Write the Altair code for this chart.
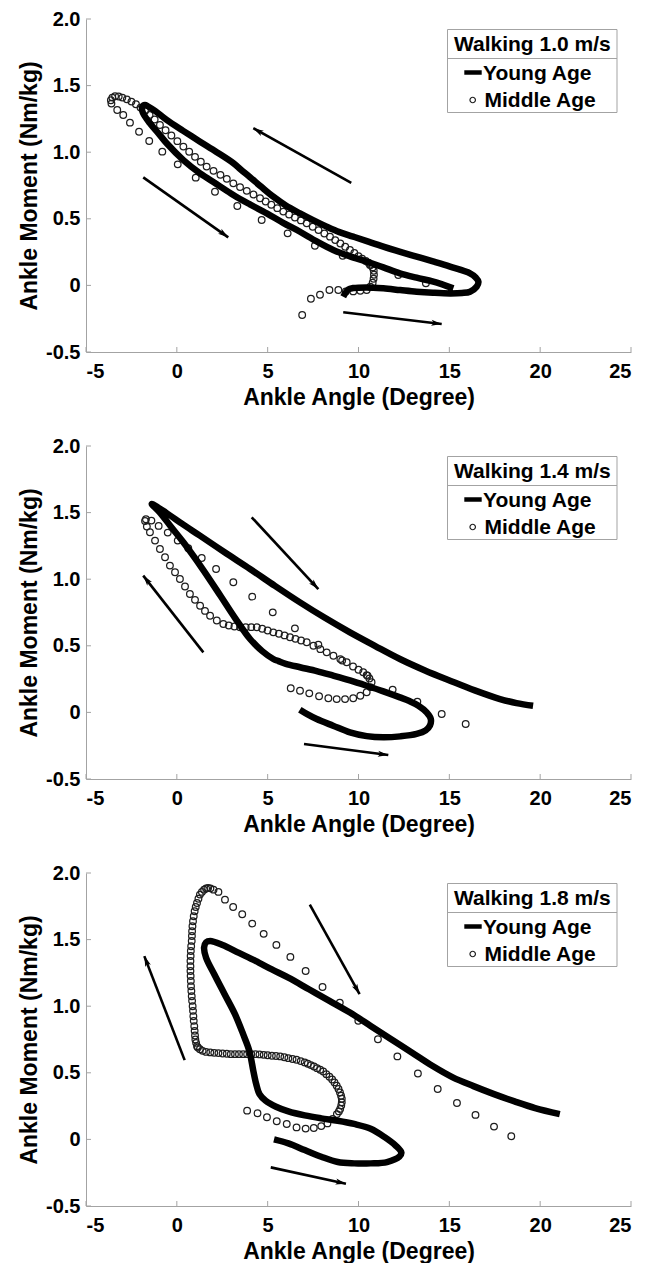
import math
import altair as alt
import pandas as pd

FONT = "Liberation Sans"
X_TICKS = [-5, 0, 5, 10, 15, 20, 25]
Y_TICKS = [-0.5, 0, 0.5, 1.0, 1.5, 2.0]
X_TITLE = "Ankle Angle (Degree)"
Y_TITLE = "Ankle Moment (Nm/kg)"
SERIES = ["Young Age", "Middle Age"]
SPEEDS = ["Walking 1.0 m/s", "Walking 1.4 m/s", "Walking 1.8 m/s"]

# ---------------- Walking 1.0 m/s ----------------
young_x_10 = [9.16, 9.45, 9.71, 10.45, 11.37, 12.3, 13.2, 14.1, 15.04, 15.7, 16.14, 16.5, 16.6, 16.45, 16.14,
              15.04, 14.1, 13.2, 12.3, 11.37, 10.5, 9.71, 8.95, 8.25, 7.5, 6.78, 6.0, 5.31, 4.65, 4.03, 3.5,
              3.11, 2.2, 1.28, 0.35, -0.56, -1.2, -1.6, -1.75, -1.9, -1.88, -1.48, -1.0, -0.56, 0.36, 1.28,
              2.2, 3.11, 4.0, 4.95, 5.85, 6.78, 7.7, 8.61, 9.5, 10.45, 11.37, 12.28, 13.2, 14.12, 15.22]
young_y_10 = [-0.085, -0.03, -0.02, -0.015, -0.022, -0.035, -0.047, -0.055, -0.06, -0.057, -0.047, -0.01,
              0.028, 0.06, 0.091, 0.141, 0.18, 0.216, 0.252, 0.291, 0.33, 0.366, 0.40, 0.441, 0.49, 0.541,
              0.60, 0.666, 0.74, 0.812, 0.872, 0.918, 1.0, 1.079, 1.16, 1.242, 1.31, 1.345, 1.354, 1.34, 1.30,
              1.217, 1.14, 1.067, 0.941, 0.841, 0.76, 0.679, 0.61, 0.541, 0.47, 0.403, 0.33, 0.266, 0.22,
              0.178, 0.135, 0.091, 0.058, 0.028, -0.022]
mid_x_10 = [6.9, 7.38, 7.88, 8.4, 8.89, 9.3, 9.71, 10.1, 10.45, 10.65, 10.78, 10.83, 10.85, 10.84, 10.78,
            10.68, 10.55, 10.4, 10.2, 10.0, 9.77, 9.53, 9.27, 9.0, 8.72, 8.43, 8.12, 7.8, 7.48, 7.15, 6.83,
            6.5, 6.18, 5.86, 5.53, 5.2, 4.89, 4.58, 4.22, 3.85, 3.48, 3.11, 2.75, 2.4, 2.02, 1.64, 1.32,
            1.0, 0.68, 0.36, 0.03, -0.3, -0.62, -0.93, -1.22, -1.5, -1.75, -2.0, -2.25, -2.5, -2.75, -3.0,
            -3.2, -3.4, -3.55, -3.63, -3.6, -3.28, -2.95, -2.58, -2.08, -1.52, -0.8, 0.05, 1.04, 2.1, 3.33,
            4.67, 6.1, 7.6, 9.13, 10.63, 12.19, 13.71]
mid_y_10 = [-0.222, -0.10, -0.07, -0.035, -0.035, -0.045, -0.045, -0.04, -0.035, -0.01, 0.02, 0.05, 0.08,
            0.11, 0.135, 0.155, 0.17, 0.183, 0.20, 0.22, 0.243, 0.266, 0.29, 0.315, 0.34, 0.366, 0.39,
            0.415, 0.44, 0.466, 0.488, 0.51, 0.532, 0.554, 0.58, 0.605, 0.63, 0.654, 0.682, 0.71, 0.738,
            0.766, 0.80, 0.83, 0.86, 0.892, 0.928, 0.965, 1.003, 1.042, 1.083, 1.125, 1.165, 1.204, 1.245,
            1.28, 1.31, 1.335, 1.36, 1.38, 1.397, 1.41, 1.418, 1.42, 1.41, 1.39, 1.365, 1.317, 1.279,
            1.222, 1.154, 1.084, 1.004, 0.909, 0.809, 0.703, 0.596, 0.491, 0.391, 0.298, 0.223, 0.153,
            0.078, 0.016]
arrow_x_10 = [9.6, -1.85, 9.16]
arrow_y_10 = [0.77, 0.811, -0.202]
arrow_x2_10 = [4.21, 2.83, 14.58]
arrow_y2_10 = [1.18, 0.361, -0.29]

# ---------------- Walking 1.4 m/s ----------------
young_x_14 = [6.77, 7.2, 7.7, 8.6, 9.53, 10.45, 11.37, 12.3, 13.2, 13.7, 13.93, 13.98, 13.75, 13.3, 12.8,
              12.28, 11.37, 10.45, 9.53, 8.61, 7.7, 6.78, 6.0, 5.6, 5.31, 4.7, 4.03, 3.2, 2.4, 1.4, 0.36,
              -0.3, -0.93, -1.38, -0.6, 0.3, 1.27, 2.65, 4.03, 5.4, 6.78, 8.15, 9.53, 10.9, 12.28, 13.66,
              15.04, 16.4, 17.79, 18.7, 19.61]
young_y_14 = [0.02, -0.015, -0.05, -0.10, -0.15, -0.178, -0.187, -0.18, -0.162, -0.135, -0.10, -0.05, 0.0,
              0.05, 0.085, 0.113, 0.158, 0.20, 0.24, 0.276, 0.31, 0.339, 0.365, 0.385, 0.401, 0.46, 0.551,
              0.71, 0.876, 1.08, 1.277, 1.39, 1.50, 1.565, 1.50, 1.415, 1.327, 1.20, 1.077, 0.95, 0.826,
              0.71, 0.601, 0.50, 0.401, 0.315, 0.238, 0.165, 0.10, 0.07, 0.05]
mid_x_14 = [6.27, 6.78, 7.29, 7.83, 8.34, 8.8, 9.26, 9.71, 10.1, 10.45, 10.65, 10.72, 10.6, 10.45, 10.26,
            10.0, 9.7, 9.35, 9.0, 8.62, 8.25, 7.9, 7.52, 7.15, 6.84, 6.53, 6.23, 5.93, 5.62, 5.31, 5.0, 4.7,
            4.4, 4.1, 3.79, 3.48, 3.17, 2.86, 2.56, 2.2, 1.83, 1.55, 1.28, 1.0, 0.72, 0.45, 0.17, -0.1,
            -0.38, -0.65, -0.93, -1.2, -1.48, -1.65, -1.75, -1.7, -1.4, -1.0, -0.5, 0.05, 0.63, 1.37,
            2.16, 3.11, 4.15, 5.28, 6.5, 7.79, 9.1, 10.5, 11.88, 13.24, 14.58, 15.9]
mid_y_14 = [0.181, 0.163, 0.143, 0.121, 0.106, 0.10, 0.10, 0.106, 0.125, 0.151, 0.19, 0.226, 0.255, 0.28,
            0.301, 0.32, 0.345, 0.376, 0.40, 0.425, 0.451, 0.475, 0.50, 0.527, 0.54, 0.552, 0.564, 0.578,
            0.59, 0.601, 0.615, 0.628, 0.639, 0.64, 0.64, 0.639, 0.645, 0.652, 0.664, 0.69, 0.726, 0.762,
            0.801, 0.845, 0.889, 0.945, 1.002, 1.052, 1.102, 1.165, 1.227, 1.29, 1.352, 1.395, 1.437,
            1.45, 1.44, 1.40, 1.35, 1.29, 1.232, 1.159, 1.077, 0.977, 0.869, 0.751, 0.631, 0.508, 0.39,
            0.275, 0.171, 0.081, -0.012, -0.087]
arrow_x_14 = [4.12, 1.46, 7.0]
arrow_y_14 = [1.465, 0.451, -0.237]
arrow_x2_14 = [7.79, -1.85, 11.64]
arrow_y2_14 = [0.926, 1.027, -0.32]

# ---------------- Walking 1.8 m/s ----------------
young_x_18 = [5.35, 6.14, 7.04, 7.95, 8.86, 9.76, 10.67, 11.57, 12.25, 12.36, 12.03, 11.46, 10.67, 9.76,
              8.86, 7.95, 7.04, 6.14, 5.46, 4.89, 4.55, 4.37, 4.21, 3.99, 3.65, 3.2, 2.63, 2.06, 1.61, 1.5,
              1.61, 1.84, 2.52, 3.42, 4.33, 5.23, 6.14, 7.27, 8.4, 9.53, 10.67, 11.8, 12.93, 14.06, 15.19,
              16.33, 17.46, 18.59, 19.72, 21.08]
young_y_18 = [0.0, -0.03, -0.08, -0.13, -0.17, -0.18, -0.18, -0.17, -0.13, -0.10, -0.045, 0.015, 0.08,
              0.116, 0.14, 0.158, 0.18, 0.21, 0.245, 0.29, 0.34, 0.415, 0.515, 0.665, 0.79, 0.94, 1.09,
              1.24, 1.364, 1.44, 1.48, 1.49, 1.46, 1.40, 1.34, 1.276, 1.214, 1.127, 1.04, 0.952, 0.852,
              0.752, 0.653, 0.553, 0.466, 0.40, 0.34, 0.285, 0.235, 0.19]
mid_x_18 = [3.87, 4.44, 4.96, 5.5, 6.05, 6.59, 7.09, 7.54, 7.95, 8.29, 8.58, 8.81, 8.92, 8.99, 9.05, 9.08,
            9.08, 9.04, 8.98, 8.9, 8.8, 8.68, 8.55, 8.4, 8.23, 8.06, 7.89, 7.72, 7.55, 7.38, 7.21, 7.04,
            6.82, 6.59, 6.37, 6.14, 5.92, 5.69, 5.46, 5.23, 5.0, 4.78, 4.55, 4.33, 4.1, 3.87, 3.65, 3.42,
            3.2, 2.97, 2.75, 2.52, 2.29, 2.06, 1.84, 1.61, 1.42, 1.27, 1.16, 1.11, 1.06, 1.02, 1.0, 0.98,
            0.96, 0.93, 0.91, 0.89, 0.87, 0.84, 0.82, 0.8, 0.78, 0.77, 0.76, 0.75, 0.75, 0.75, 0.76, 0.77,
            0.79, 0.82, 0.83, 0.84, 0.86, 0.89, 0.93, 0.98, 1.04, 1.11, 1.19, 1.27, 1.38, 1.5, 1.61, 1.72,
            1.85, 2.02, 2.29, 2.65, 3.1, 3.6, 4.15, 4.78, 5.48, 6.25, 7.09, 8.02, 8.97, 9.99, 11.07,
            12.14, 13.27, 14.36, 15.42, 16.44, 17.46, 18.41]
mid_y_18 = [0.216, 0.196, 0.166, 0.136, 0.116, 0.09, 0.081, 0.086, 0.10, 0.12, 0.154, 0.19, 0.21, 0.229,
            0.255, 0.278, 0.305, 0.328, 0.352, 0.378, 0.403, 0.428, 0.45, 0.47, 0.49, 0.51, 0.523, 0.535,
            0.547, 0.558, 0.568, 0.578, 0.588, 0.598, 0.604, 0.61, 0.617, 0.623, 0.626, 0.628, 0.632,
            0.635, 0.638, 0.64, 0.64, 0.64, 0.64, 0.64, 0.64, 0.64, 0.643, 0.645, 0.648, 0.65, 0.653,
            0.657, 0.665, 0.677, 0.69, 0.70, 0.725, 0.75, 0.78, 0.815, 0.85, 0.89, 0.925, 0.965, 1.0,
            1.04, 1.075, 1.114, 1.15, 1.19, 1.227, 1.264, 1.30, 1.34, 1.377, 1.414, 1.45, 1.49, 1.527,
            1.563, 1.60, 1.638, 1.675, 1.713, 1.745, 1.775, 1.807, 1.838, 1.858, 1.875, 1.884, 1.888,
            1.885, 1.875, 1.858, 1.80, 1.745, 1.69, 1.62, 1.543, 1.46, 1.37, 1.264, 1.144, 1.027, 0.89,
            0.752, 0.623, 0.495, 0.378, 0.273, 0.184, 0.096, 0.024]
arrow_x_18 = [7.32, 0.43, 5.17]
arrow_y_18 = [1.763, 0.595, -0.21]
arrow_x2_18 = [10.06, -1.79, 9.31]
arrow_y2_18 = [1.09, 1.376, -0.333]

# ---------------- layout / style ----------------
W, H = 545, 333
XD = [-5, 25]
YD = [-0.5, 2.0]
PX = W / (XD[1] - XD[0])
PY = H / (YD[1] - YD[0])
AXIS_GREY = "#a3a3a3"
CIRCLE_COLOR = "#1e1e1e"
ARROW_HEAD = "M0,0 L0.55,1.9 L0,1.45 L-0.55,1.9 Z"


def panel(title, yx, yy, mx, my, ax, ay, ax2, ay2):
    xs = alt.Scale(domain=XD, nice=False, zero=False)
    ys = alt.Scale(domain=YD, nice=False, zero=False)
    xaxis = alt.Axis(values=X_TICKS, title=X_TITLE, ticks=False, grid=False,
                     labelExpr="replace(datum.label, '\u2212', '-')")
    yaxis = alt.Axis(values=Y_TICKS, title=Y_TITLE, ticks=False, grid=False,
                     labelExpr="datum.value == 0 ? '0' : replace(format(datum.value, '.1f'), '\u2212', '-')")
    X = lambda f: alt.X(f + ":Q", scale=xs, axis=xaxis, title=X_TITLE)
    Y = lambda f: alt.Y(f + ":Q", scale=ys, axis=yaxis, title=Y_TITLE)

    young = pd.DataFrame({"x": yx, "y": yy, "i": list(range(len(yx)))})
    mid = pd.DataFrame({"x": mx, "y": my})
    arr = pd.DataFrame({"x": ax, "y": ay, "x2": ax2, "y2": ay2})
    arr["angle"] = [math.degrees(math.atan2((b - a) * PX, (d - c) * PY)) % 360
                    for a, b, c, d in zip(ax, ax2, ay, ay2)]
    xt = pd.DataFrame({"x": X_TICKS, "y": [YD[0]] * len(X_TICKS),
                       "y2": [YD[0] + 5 / PY] * len(X_TICKS)})
    yt = pd.DataFrame({"y": Y_TICKS, "x": [XD[0]] * len(Y_TICKS),
                       "x2": [XD[0] + 5 / PX] * len(Y_TICKS)})

    xtick = alt.Chart(xt).mark_rule(color=AXIS_GREY, strokeWidth=1).encode(
        x=X("x"), y=Y("y"), y2="y2:Q")
    ytick = alt.Chart(yt).mark_rule(color=AXIS_GREY, strokeWidth=1).encode(
        x=X("x"), x2="x2:Q", y=Y("y"))

    line = alt.Chart(young).mark_line(color="black", strokeWidth=6.5, strokeJoin="round",
                                      strokeCap="butt", interpolate="catmull-rom").encode(
        x=X("x"), y=Y("y"), order="i:Q")
    pts = alt.Chart(mid).mark_point(shape="circle", filled=False, color=CIRCLE_COLOR, size=44,
                                    strokeWidth=1.25, opacity=1).encode(x=X("x"), y=Y("y"))
    shafts = alt.Chart(arr).mark_rule(color="black", strokeWidth=2.6).encode(
        x=X("x"), y=Y("y"), x2="x2:Q", y2="y2:Q")
    heads = alt.Chart(arr).mark_point(shape=ARROW_HEAD, filled=True, color="black", size=120,
                                      opacity=1).encode(
        x=X("x2"), y=Y("y2"), angle=alt.Angle("angle:Q", scale=None))

    one = pd.DataFrame({"t": [title]})
    box = alt.Chart(one).mark_rect(fill="white", stroke=AXIS_GREY, strokeWidth=1).encode(
        x=alt.value(361.5), x2=alt.value(531), y=alt.value(10.5), y2=alt.value(93.5))
    sep = alt.Chart(one).mark_rule(color=AXIS_GREY, strokeWidth=1).encode(
        x=alt.value(361.5), x2=alt.value(531), y=alt.value(39.5))
    ttl = alt.Chart(one).mark_text(font=FONT, fontSize=21, fontWeight="bold", color="black",
                                   align="center", baseline="middle").encode(
        x=alt.value(446.3), y=alt.value(25.5), text="t:N")
    yl = alt.Chart(pd.DataFrame({"t": [SERIES[0]]})).mark_text(
        font=FONT, fontSize=21, fontWeight="bold", color="black", align="left", baseline="middle").encode(
        x=alt.value(397), y=alt.value(54.5), text="t:N")
    ml = alt.Chart(pd.DataFrame({"t": [SERIES[1]]})).mark_text(
        font=FONT, fontSize=21, fontWeight="bold", color="black", align="left", baseline="middle").encode(
        x=alt.value(398.5), y=alt.value(81.5), text="t:N")
    ysym = alt.Chart(pd.DataFrame({"t": [SERIES[0]]})).mark_rule(color="black", strokeWidth=4.5).encode(
        x=alt.value(378.3), x2=alt.value(395.7), y=alt.value(53.5))
    msym = alt.Chart(pd.DataFrame({"t": [SERIES[1]]})).mark_point(
        shape="circle", filled=False, color=CIRCLE_COLOR, size=30, strokeWidth=1.2, opacity=1).encode(
        x=alt.value(386.7), y=alt.value(81))

    return alt.layer(xtick, ytick, pts, line, shafts, heads, box, sep, ttl, yl, ml, ysym, msym).properties(
        width=W, height=H)


p1 = panel(SPEEDS[0], young_x_10, young_y_10, mid_x_10, mid_y_10, arrow_x_10, arrow_y_10, arrow_x2_10, arrow_y2_10)
p2 = panel(SPEEDS[1], young_x_14, young_y_14, mid_x_14, mid_y_14, arrow_x_14, arrow_y_14, arrow_x2_14, arrow_y2_14)
p3 = panel(SPEEDS[2], young_x_18, young_y_18, mid_x_18, mid_y_18, arrow_x_18, arrow_y_18, arrow_x2_18, arrow_y2_18)

chart = alt.vconcat(p1, p2, p3, spacing=27).properties(
    padding={"left": 10, "top": 1, "right": 0, "bottom": 0}
).configure_view(stroke=None).configure_axis(
    domainColor=AXIS_GREY, domainWidth=1,
    labelFont=FONT, labelFontSize=20, labelFontWeight="bold", labelColor="black",
    titleFont=FONT, titleFontSize=23, titleFontWeight="bold", titleColor="black",
).configure_axisX(labelPadding=9, titlePadding=5).configure_axisY(labelPadding=6, titlePadding=4)

chart.save("out.html", embed_options={"renderer": "svg", "actions": False})
